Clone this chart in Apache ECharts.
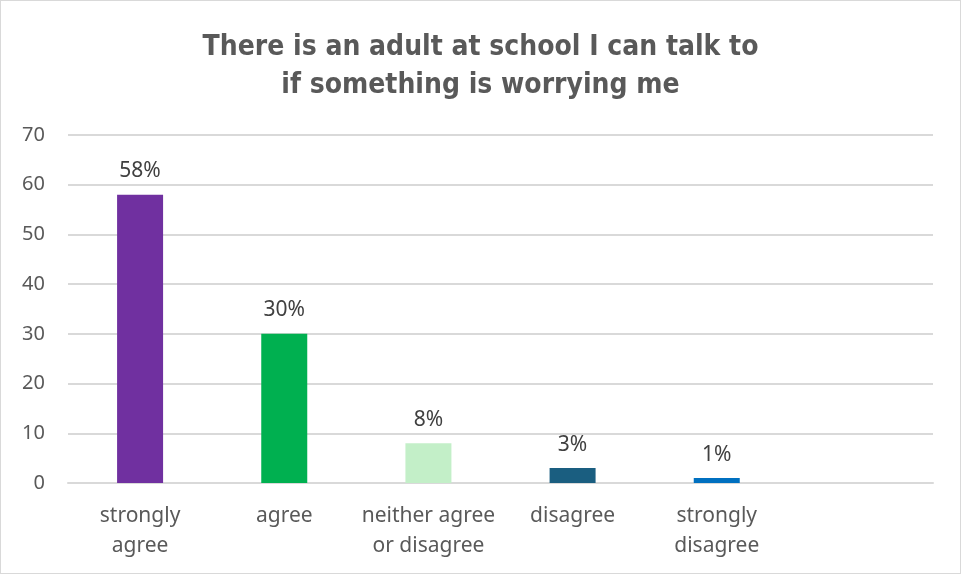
<!DOCTYPE html>
<html>
<head>
<meta charset="utf-8">
<script src="https://cdn.jsdelivr.net/npm/echarts@6/dist/echarts.min.js"></script>
<style>
  html, body { margin: 0; padding: 0; background: #fff; }
  #chart { width: 959px; height: 572px; border: 1px solid #d9d9d9; }
</style>
</head>
<body>
<div id="chart"></div>
<script>
// categories (last slot is empty in the original)
var categories = ["strongly\nagree", "agree", "neither agree\nor disagree", "disagree", "strongly\ndisagree", ""];
var values = [58, 30, 8, 3, 1, null];
var barColors = ["#7030A0", "#00B050", "#C3EFC8", "#1A5E80", "#0070C0", "#ffffff"];
var yTicks = [0, 10, 20, 30, 40, 50, 60, 70];

var mychart = echarts.init(document.getElementById("chart"));
var option = {
  animation: false,
  title: {
    text: "There is an adult at school I can talk to\nif something is worrying me",
    left: "center",
    top: 23,
    textStyle: {
      fontFamily: "DejaVu Sans Condensed, sans-serif",
      fontSize: 28,
      fontWeight: "bold",
      color: "#595959",
      lineHeight: 38,
    },
  },
  grid: {
    left: 67,
    right: 27,
    top: 134,
    bottom: 90,
  },
  xAxis: {
    type: "category",
    data: categories,
    axisLine: { lineStyle: { color: "#d9d9d9", width: 2 } },
    axisTick: { show: false },
    axisLabel: {
      interval: 0,
      margin: 18,
      color: "#595959",
      fontSize: 21,
      lineHeight: 30,
      fontFamily: "Noto Sans, sans-serif",
    },
  },
  yAxis: {
    type: "value",
    min: yTicks[0],
    max: yTicks[yTicks.length - 1],
    interval: 10,
    axisLine: { show: false },
    axisTick: { show: false },
    axisLabel: {
      margin: 23,
      color: "#595959",
      fontSize: 20,
      fontFamily: "Noto Sans, sans-serif",
    },
    splitLine: { lineStyle: { color: "#d9d9d9", width: 2 } },
  },
  series: [
    {
      type: "bar",
      barWidth: 46,
      data: values.map(function (v, i) {
        return { value: v, itemStyle: { color: barColors[i] } };
      }),
      label: {
        show: true,
        position: "top",
        distance: 13,
        formatter: "{c}%",
        color: "#404040",
        fontSize: 21,
        fontFamily: "Noto Sans, sans-serif",
      },
    },
  ],
};
mychart.setOption(option);
</script>
</body>
</html>
